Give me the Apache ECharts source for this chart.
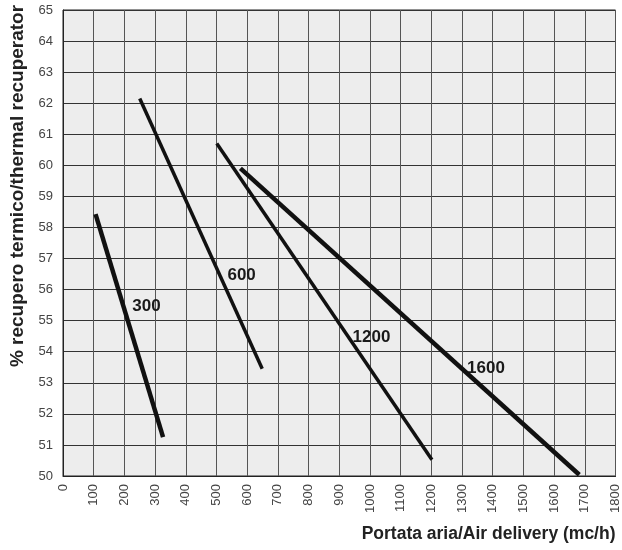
<!DOCTYPE html>
<html>
<head>
<meta charset="utf-8">
<script src="https://cdn.jsdelivr.net/npm/echarts@6/dist/echarts.min.js"></script>
<style>
  html, body { margin: 0; padding: 0; background: #fff; }
  #chart { width: 622px; height: 550px; }
</style>
</head>
<body>
<div id="chart"></div>
<script>
// curve end points (x = mc/h, y = %)
const line300 = [[106, 58.43], [326, 51.25]];
const line600 = [[250, 62.15], [649, 53.45]];
const line1200 = [[501, 60.7], [1202, 50.52]];
const line1600 = [[578, 59.9], [1682, 50.04]];
// where the curve names sit
const labelNames = ['300', '600', '1200', '1600'];
const labelPos = [[272, 55.47], [582, 56.47], [1005, 54.47], [1378, 53.48]];

const font = "'Liberation Sans Narrow', 'Liberation Sans', Arial, sans-serif";

let myChart = echarts.init(document.getElementById('chart'));

const mkLine = (data, w) => ({
  type: 'line',
  data: data,
  symbol: 'none',
  animation: false,
  lineStyle: { color: '#111', width: w }
});

let option = {
  backgroundColor: '#fff',
  grid: { // area of the grid
    left: 60,
    top: 10,
    right: 3,
    bottom: 74,
    show: true,
    backgroundColor: '#ededed',
    borderColor: '#222',
    borderWidth: 1
  },
  xAxis: {
    type: 'value',
    min: 0,
    max: 1800,
    interval: 100,
    name: 'Portata aria/Air delivery (mc/h)',
    nameLocation: 'end',
    nameGap: 0,
    nameTextStyle: {
      fontFamily: font,
      fontWeight: 'bold',
      fontSize: 17.5,
      color: '#222',
      align: 'right',
      verticalAlign: 'top',
      padding: [49, 0, 0, 0]
    },
    axisLine: { show: true, lineStyle: { color: '#222' } },
    axisTick: { show: false },
    axisLabel: {
      rotate: 90,
      margin: 8,
      fontFamily: font,
      fontSize: 13,
      color: '#444',
      formatter: v => String(v)
    },
    splitLine: { show: true, lineStyle: { color: '#555', width: 1 } }
  },
  yAxis: {
    type: 'value',
    min: 50,
    max: 65,
    interval: 1,
    name: '% recupero termico/thermal recuperator',
    nameLocation: 'middle',
    nameGap: 36,
    nameTextStyle: {
      fontFamily: font,
      fontWeight: 'bold',
      fontSize: 19,
      color: '#222',
      padding: [0, 0, 0, 114]
    },
    axisLine: { show: true, lineStyle: { color: '#222' } },
    axisTick: { show: false },
    axisLabel: {
      margin: 10,
      fontFamily: font,
      fontSize: 13,
      color: '#444'
    },
    splitLine: { show: true, lineStyle: { color: '#333', width: 1 } }
  },
  series: [
    mkLine(line300, 4.5),
    mkLine(line600, 3.5),
    mkLine(line1200, 3.5),
    mkLine(line1600, 4.5),
    { // curve names
      type: 'scatter',
      symbolSize: 0,
      animation: false,
      itemStyle: { opacity: 1 },
      data: labelPos.map((p, i) => ({ value: p, name: labelNames[i] })),
      label: {
        show: true,
        position: 'inside',
        formatter: '{b}',
        fontFamily: font,
        fontWeight: 'bold',
        fontSize: 17,
        color: '#1a1a1a',
        opacity: 1
      }
    }
  ]
};
myChart.setOption(option);
</script>
</body>
</html>
